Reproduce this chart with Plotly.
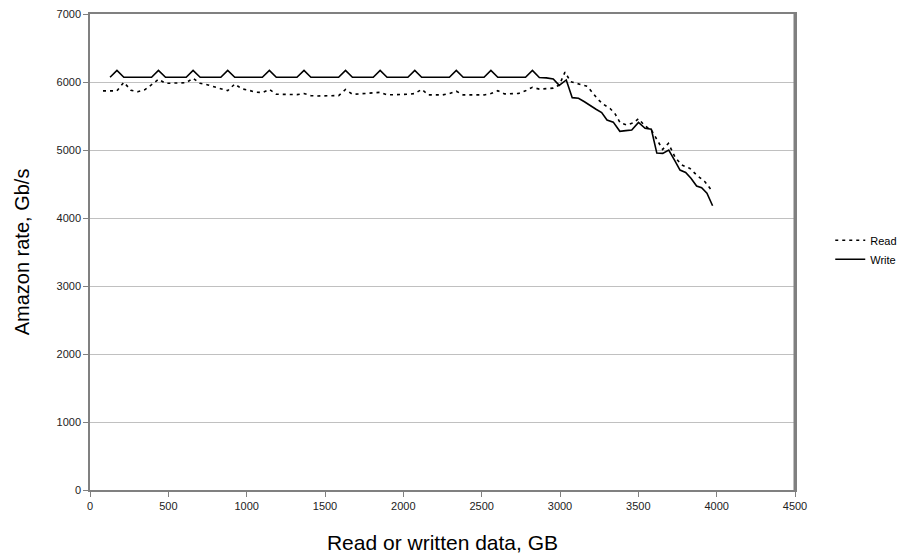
import plotly.graph_objects as go

# ---- data ----
write_x = [128, 172, 216, 261, 305, 349, 393, 437, 482, 526, 570, 614, 658, 703, 747, 791,
           835, 879, 924, 968, 1012, 1056, 1100, 1145, 1189, 1233, 1277, 1321, 1366, 1410,
           1454, 1498, 1542, 1587, 1631, 1675, 1719, 1763, 1808, 1852, 1896, 1940, 1984,
           2029, 2073, 2117, 2161, 2205, 2250, 2294, 2338, 2382, 2426, 2471, 2515, 2559,
           2603, 2647, 2692, 2736, 2780, 2824, 2868, 2913, 2957, 2995, 3040, 3078, 3118,
           3156, 3194, 3230, 3266, 3300, 3340, 3382, 3420, 3458, 3501, 3543, 3583, 3618,
           3656, 3694, 3730, 3766, 3802, 3836, 3872, 3904, 3938, 3974]
write_y = [6070, 6170, 6070, 6070, 6070, 6070, 6070, 6170, 6070, 6070, 6070, 6070, 6170, 6070,
           6070, 6070, 6070, 6170, 6070, 6070, 6070, 6070, 6070, 6170, 6070, 6070, 6070, 6070,
           6170, 6070, 6070, 6070, 6070, 6070, 6170, 6070, 6070, 6070, 6070, 6170, 6070, 6070,
           6070, 6070, 6170, 6070, 6070, 6070, 6070, 6070, 6170, 6070, 6070, 6070, 6070, 6170,
           6070, 6070, 6070, 6070, 6070, 6170, 6065, 6060, 6045, 5950, 6030, 5770, 5760, 5710,
           5660, 5600, 5550, 5440, 5410, 5275, 5285, 5295, 5405, 5320, 5305, 4955, 4950, 5000,
           4855, 4705, 4670, 4585, 4470, 4445, 4365, 4180]

read_x = [83, 128, 172, 216, 261, 305, 349, 393, 437, 482, 526, 570, 614, 658, 703, 747, 791,
          835, 879, 924, 968, 1012, 1056, 1100, 1145, 1189, 1233, 1277, 1321, 1366, 1410,
          1454, 1498, 1542, 1587, 1631, 1675, 1719, 1763, 1808, 1852, 1896, 1940, 1984,
          2029, 2073, 2117, 2161, 2205, 2250, 2294, 2338, 2382, 2426, 2471, 2515, 2559,
          2603, 2647, 2692, 2736, 2780, 2824, 2868, 2913, 2957, 2995, 3032, 3068, 3110,
          3145, 3175, 3205, 3240, 3278, 3320, 3352, 3384, 3426, 3469, 3501, 3543, 3583,
          3618, 3655, 3692, 3735, 3777, 3829, 3872, 3925, 3974]
read_y = [5870, 5870, 5870, 5995, 5880, 5857, 5885, 5960, 6040, 5980, 5980, 5980, 5990, 6055,
          5980, 5960, 5930, 5900, 5872, 5970, 5900, 5880, 5850, 5845, 5890, 5820, 5815, 5815,
          5815, 5830, 5800, 5795, 5795, 5795, 5800, 5890, 5820, 5825, 5830, 5835, 5848, 5810,
          5810, 5815, 5820, 5830, 5892, 5810, 5810, 5810, 5830, 5865, 5810, 5810, 5810, 5810,
          5830, 5872, 5825, 5830, 5833, 5870, 5922, 5895, 5900, 5910, 5955, 6145, 6005, 5975,
          5960, 5935, 5850, 5750, 5670, 5610, 5530, 5400, 5368, 5400, 5460, 5353, 5294, 5150,
          5010, 5098, 4890, 4780, 4730, 4632, 4534, 4387]

x_ticks = [0, 500, 1000, 1500, 2000, 2500, 3000, 3500, 4000, 4500]
y_ticks = [0, 1000, 2000, 3000, 4000, 5000, 6000, 7000]

FONT = "Liberation Sans, Arial, sans-serif"

fig = go.Figure()
fig.add_trace(go.Scatter(x=read_x, y=read_y, name="Read", mode="lines",
                         line=dict(color="black", width=1.6, dash="3px,4px")))
fig.add_trace(go.Scatter(x=write_x, y=write_y, name="Write", mode="lines",
                         line=dict(color="black", width=1.6)))

fig.update_layout(
    width=914, height=560,
    margin=dict(l=90, r=117, t=14, b=70),
    paper_bgcolor="white", plot_bgcolor="white",
    font=dict(family=FONT, color="black", size=11),
    showlegend=True,
    legend=dict(x=1.05, y=0.555, xanchor="left", yanchor="top",
                font=dict(size=11, family=FONT), tracegroupgap=0,
                bgcolor="rgba(0,0,0,0)"),
    xaxis=dict(range=[0, 4500], tickvals=x_ticks, ticktext=[str(v) for v in x_ticks],
               automargin=False,
               showgrid=False, zeroline=False, showline=True, linecolor="#808080",
               linewidth=1.5, mirror=True, ticks="outside", ticklen=5, tickcolor="#808080",
               tickfont=dict(size=11, family=FONT, color="#222222"),
               title=dict(text="Read or written data, GB", font=dict(size=21, family=FONT),
                          standoff=24)),
    yaxis=dict(range=[0, 7000], tickvals=y_ticks, ticktext=[str(v) for v in y_ticks],
               automargin=False,
               showgrid=True, gridcolor="#c0c0c0", gridwidth=1, zeroline=False,
               showline=True, linecolor="#808080", linewidth=1.5, mirror=True,
               ticks="outside", ticklen=5, tickcolor="#808080",
               tickfont=dict(size=11, family=FONT, color="#222222"),
               title=dict(text="Amazon rate, Gb/s", font=dict(size=20, family=FONT),
                          standoff=22)),
    shapes=[dict(type="line", xref="paper", yref="paper", x0=1, x1=1, y0=0, y1=1,
                 line=dict(color="#808080", width=3))],
)

fig.write_html("out.html")
